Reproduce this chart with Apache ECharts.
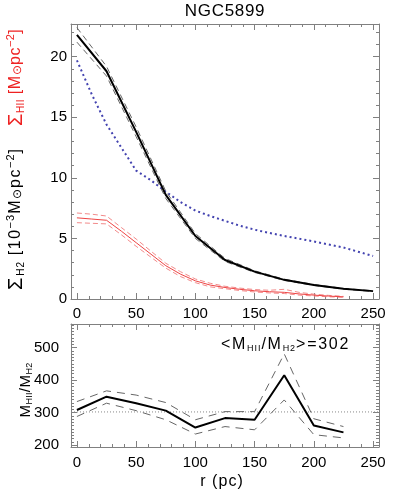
<!DOCTYPE html>
<html><head><meta charset="utf-8">
<script src="https://cdn.jsdelivr.net/npm/echarts@6/dist/echarts.min.js"></script>
<style>html,body{margin:0;padding:0;background:#fff}#c{width:399px;height:498px}</style>
</head><body><div id="c"></div>
<script>
// ---------- data ----------
const rH2 = [0,25,50,75,100,125,150,175,200,225,250];
const sigH2   = [21.8,18.8,13.8,8.6,5.2,3.22,2.26,1.58,1.16,0.84,0.65];
const sigH2Up = [22.4,19.2,14.2,8.9,5.4,3.35,2.33,1.63,1.2,0.87,0.68];
const sigH2Lo = [21.2,18.4,13.4,8.3,5.0,3.1,2.19,1.53,1.12,0.81,0.62];

const rBlue = [0,12.5,25,37.5,50,62.5,75,87.5,100,112.5,125,137.5,150,162.5,175,187.5,200,212.5,225,237.5,250];
const sigBlue = [19.7,16.9,14.4,12.5,10.6,9.8,8.85,8.0,7.3,6.85,6.45,6.05,5.72,5.45,5.2,4.98,4.75,4.5,4.25,3.9,3.55];

const rHII = [0,12.5,25,37.5,50,62.5,75,87.5,100,112.5,125,137.5,150,162.5,175,187.5,200,212.5,225];
const sigHII   = [6.7,6.6,6.5,5.6,4.65,3.7,2.75,2.05,1.5,1.15,0.95,0.8,0.68,0.6,0.55,0.42,0.32,0.24,0.18];
const sigHIIUp = [7.1,7.0,6.85,5.9,4.95,3.95,2.95,2.25,1.65,1.3,1.05,0.9,0.78,0.72,0.8,0.55,0.4,0.3,0.22];
const sigHIILo = [6.3,6.25,6.2,5.3,4.35,3.45,2.55,1.85,1.35,1.0,0.85,0.7,0.58,0.5,0.45,0.32,0.25,0.18,0.14];

const rRatio = [0,25,50,75,100,125,150,175,200,225];
const ratio   = [308,349,329,306,254,283,278,415,260,239];
const ratioUp = [334,367,354,331,278,303,303,481,281,257];
const ratioLo = [288,329,306,278,234,257,247,339,232,222];
const meanRatio = 302;

const xMajor = [0,50,100,150,200,250];
const yTopMajor = [0,5,10,15,20];
const yBotMajor = [200,300,400,500];

// ---------- helpers ----------
const FONT = "'Liberation Sans', Arial, sans-serif";
const GREY = '#808080';
function range(a,b,s){const o=[];for(let v=a;v<=b+1e-9;v+=s)o.push(+v.toFixed(6));return o;}
const xMinor = range(0,250,10);
const yTopMinor = range(0,22,1);
const yBotMinor = range(200,570,10);

function ax(grid,pos,min,max,ticks,len,line,labels,margin){
  return {type:'value',gridIndex:grid,position:pos,min:min,max:max,
    axisLine:{show:line,onZero:false,lineStyle:{color:GREY,width:1}},
    axisTick:{show:true,inside:true,length:len,customValues:ticks,lineStyle:{color:GREY,width:1}},
    axisLabel:{show:!!labels,customValues:labels||[],margin:margin||8,color:'#000',fontFamily:FONT,fontSize:15},
    splitLine:{show:false},minorTick:{show:false}};
}
function zip(xs,ys){return xs.map((x,i)=>[x,ys[i]]);}
function ln(name,xs,ys,xi,yi,color,width,type,z){
  return {name,type:'line',xAxisIndex:xi,yAxisIndex:yi,data:zip(xs,ys),showSymbol:false,symbol:'none',
    lineStyle:{color,width,type},z:z||2,silent:true};
}
const ctx = document.createElement('canvas').getContext('2d');
function tw(t,s){ctx.font=s+'px '+FONT;return ctx.measureText(t).width;}
// text run with per-character letter spacing ls
function seq(parts,x,y,rot,center,ls){
  ls=ls||0;let cx=0;const kids=[];
  for(const p of parts){
    for(const ch of Array.from(p.t)){
      kids.push({type:'text',x:cx,y:p.dy||0,style:{text:ch,fontSize:p.s,fontFamily:FONT,fill:p.c||'#000',align:'left',verticalAlign:'middle'}});
      cx+=tw(ch,p.s)+ls*(p.s/15);
    }
  }
  if(center)kids.forEach(k=>k.x-=cx/2);
  return {type:'group',x,y,rotation:rot||0,children:kids,silent:true};
}

const X0=-5,X1=255;
const RED='#ee2222';
const option = {
  animation:false,
  backgroundColor:'#fff',
  grid:[{left:71,right:20,top:24,height:275},{left:71,right:20,top:324,height:123}],
  xAxis:[
    ax(0,'bottom',X0,X1,xMajor,6,true,null),
    ax(0,'bottom',X0,X1,xMinor,3,false,null),
    ax(0,'top',X0,X1,xMajor,6,true,null),
    ax(0,'top',X0,X1,xMinor,3,false,null),
    ax(1,'bottom',X0,X1,xMajor,6,true,xMajor,8),
    ax(1,'bottom',X0,X1,xMinor,3,false,null),
    ax(1,'top',X0,X1,xMajor,6,true,xMajor,3),
    ax(1,'top',X0,X1,xMinor,3,false,null)
  ],
  yAxis:[
    ax(0,'left',0,22.7,yTopMajor,6,true,yTopMajor,4),
    ax(0,'left',0,22.7,yTopMinor,3,false,null),
    ax(0,'right',0,22.7,yTopMajor,6,true,null),
    ax(0,'right',0,22.7,yTopMinor,3,false,null),
    ax(1,'left',194,573,yBotMajor,6,true,yBotMajor,12),
    ax(1,'left',194,573,yBotMinor,3,false,null),
    ax(1,'right',194,573,yBotMajor,6,true,null),
    ax(1,'right',194,573,yBotMinor,3,false,null)
  ],
  series:[
    ln('HIIlo',rHII,sigHIILo,0,0,'#f28a8a',1,[5,3]),
    ln('HIIup',rHII,sigHIIUp,0,0,'#f28a8a',1,[5,3]),
    ln('HII',rHII,sigHII,0,0,'#ee4444',1,'solid',3),
    ln('blue',rBlue,sigBlue,0,0,'#4343b0',2,[2,3]),
    ln('H2lo',rH2,sigH2Lo,0,0,'#666',1,[6,4]),
    ln('H2up',rH2,sigH2Up,0,0,'#666',1,[6,4]),
    ln('H2',rH2,sigH2,0,0,'#000',2,'solid',4),
    ln('mean',[X0,X1],[meanRatio,meanRatio],4,4,'#888',1,[1,2]),
    ln('rlo',rRatio,ratioLo,4,4,'#666',1,[8,6]),
    ln('rup',rRatio,ratioUp,4,4,'#666',1,[8,6]),
    ln('ratio',rRatio,ratio,4,4,'#000',2,'solid',4)
  ],
  graphic:[
    seq([{t:'NGC5899',s:17}],225,11,0,true,0.6),
    seq([{t:'r (pc)',s:16}],222,482,0,true,1),
    // black y label (top panel)
    seq([{t:'Σ',s:20},{t:'H2',s:10,dy:5},{t:' [10',s:16},{t:'−3',s:11,dy:-5},{t:'M',s:16},{t:'⊙',s:12,dy:2},{t:'pc',s:16},{t:'−2',s:11,dy:-5},{t:']',s:16}],16,290,Math.PI/2,false,1.4),
    // red y label (top panel)
    seq([{t:'Σ',s:20,c:RED},{t:'HII',s:10,dy:5,c:RED},{t:' [M',s:16,c:RED},{t:'⊙',s:12,dy:2,c:RED},{t:'pc',s:16,c:RED},{t:'−2',s:11,dy:-5,c:RED},{t:']',s:16,c:RED}],16,126,Math.PI/2,false,0.5),
    // bottom y label
    seq([{t:'M',s:15},{t:'HII',s:9,dy:4},{t:'/M',s:15},{t:'H2',s:9,dy:4}],26,390,Math.PI/2,true,0.5),
    // annotation
    seq([{t:'<M',s:16},{t:'HII',s:9,dy:4},{t:'/M',s:16},{t:'H2',s:9,dy:4},{t:'>=302',s:16}],221,345,0,false,1.6)
  ]
};
const chart = echarts.init(document.getElementById('c'),null,{renderer:'canvas'});
chart.setOption(option);
</script>
</body></html>
